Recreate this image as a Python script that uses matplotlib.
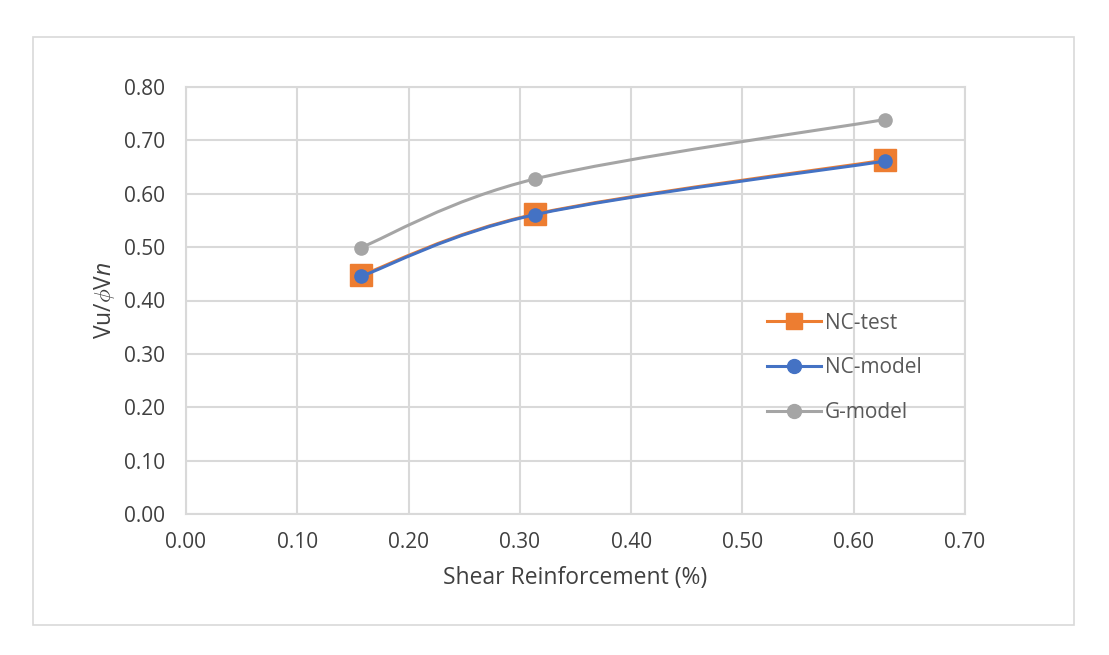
import matplotlib
matplotlib.use("Agg")
import matplotlib.pyplot as plt
import numpy as np
from matplotlib.path import Path
from matplotlib.patches import PathPatch, Rectangle
from matplotlib.lines import Line2D

# data
reinforcement = [0.157, 0.314, 0.628]
nc_test = [0.447, 0.562, 0.663]
nc_model = [0.445, 0.561, 0.661]
g_model = [0.499, 0.628, 0.739]

x_ticks = [0.0, 0.1, 0.2, 0.3, 0.4, 0.5, 0.6, 0.7]
y_ticks = [0.0, 0.1, 0.2, 0.3, 0.4, 0.5, 0.6, 0.7, 0.8]

ORANGE = "#ED7D31"
BLUE = "#4472C4"
GRAY = "#A5A5A5"
GRID = "#D9D9D9"
TEXT = "#595959"

plt.rcParams["font.family"] = ["Open Sans", "DejaVu Sans"]
plt.rcParams["mathtext.fontset"] = "custom"
plt.rcParams["mathtext.rm"] = "Open Sans"
plt.rcParams["mathtext.it"] = "Open Sans:italic"


def smooth_path(xs, ys):
    # Excel-style smoothed line: cubic bezier through the points
    pts = np.column_stack([xs, ys])
    n = len(pts)
    verts = [pts[0]]
    codes = [Path.MOVETO]
    for i in range(n - 1):
        p0 = pts[max(i - 1, 0)]
        p1 = pts[i]
        p2 = pts[i + 1]
        p3 = pts[min(i + 2, n - 1)]
        c1 = p1 + (p2 - p0) / 6.0
        c2 = p2 - (p3 - p1) / 6.0
        verts += [c1, c2, p2]
        codes += [Path.CURVE4] * 3
    return Path(verts, codes)


fig = plt.figure(figsize=(11.09, 6.55), dpi=100)
fig.patches.append(Rectangle((33 / 1109, 1 - 625 / 655), 1041 / 1109, 588 / 655,
                             transform=fig.transFigure, fill=False,
                             edgecolor=GRID, linewidth=1.2))
ax = fig.add_axes([186 / 1109, 141 / 655, 779 / 1109, 427 / 655])

series = [
    ("NC-test", nc_test, ORANGE, "s", 16, 11),
    ("NC-model", nc_model, BLUE, "o", 9.5, 10),
    ("G-model", g_model, GRAY, "o", 9.5, 10),
]
handles = []
for z, (name, vals, color, mk, ms, leg_ms) in enumerate(series):
    ax.add_patch(PathPatch(smooth_path(reinforcement, vals), fill=False,
                           edgecolor=color, linewidth=2.2, zorder=3 + z))
    ax.plot(reinforcement, vals, linestyle="none", marker=mk, markersize=ms,
            color=color, zorder=3 + z)
    handles.append(Line2D([], [], color=color, linewidth=2.2, marker=mk,
                          markersize=leg_ms))

ax.set_xlim(0, 0.7)
ax.set_ylim(0, 0.8)
ax.set_xticks(x_ticks)
ax.set_yticks(y_ticks)
ax.set_xticklabels([f"{v:.2f}" for v in x_ticks])
ax.set_yticklabels([f"{v:.2f}" for v in y_ticks])
ax.tick_params(length=0, labelsize=15, labelcolor="#404040")
ax.tick_params(axis="x", pad=13)
ax.tick_params(axis="y", pad=15)
ax.grid(True, color=GRID, linewidth=1.5)
ax.set_axisbelow(True)
for s in ax.spines.values():
    s.set_color(GRID)
    s.set_linewidth(1.5)

ax.set_xlabel("Shear Reinforcement (%)", fontsize=16.5, color="#404040", labelpad=9)
ax.set_ylabel(r"Vu/$\it{\phi}$V$\it{n}$", fontsize=16.5, color="#404040", labelpad=5)

leg = ax.legend(handles, [s[0] for s in series], loc="center left",
                bbox_to_anchor=(0.732, 0.342), frameon=False, fontsize=15,
                borderpad=0, handlelength=2.6, labelspacing=1.15,
                handletextpad=0.2)
for t in leg.get_texts():
    t.set_color(TEXT)

fig.savefig("out.png", dpi=100)
